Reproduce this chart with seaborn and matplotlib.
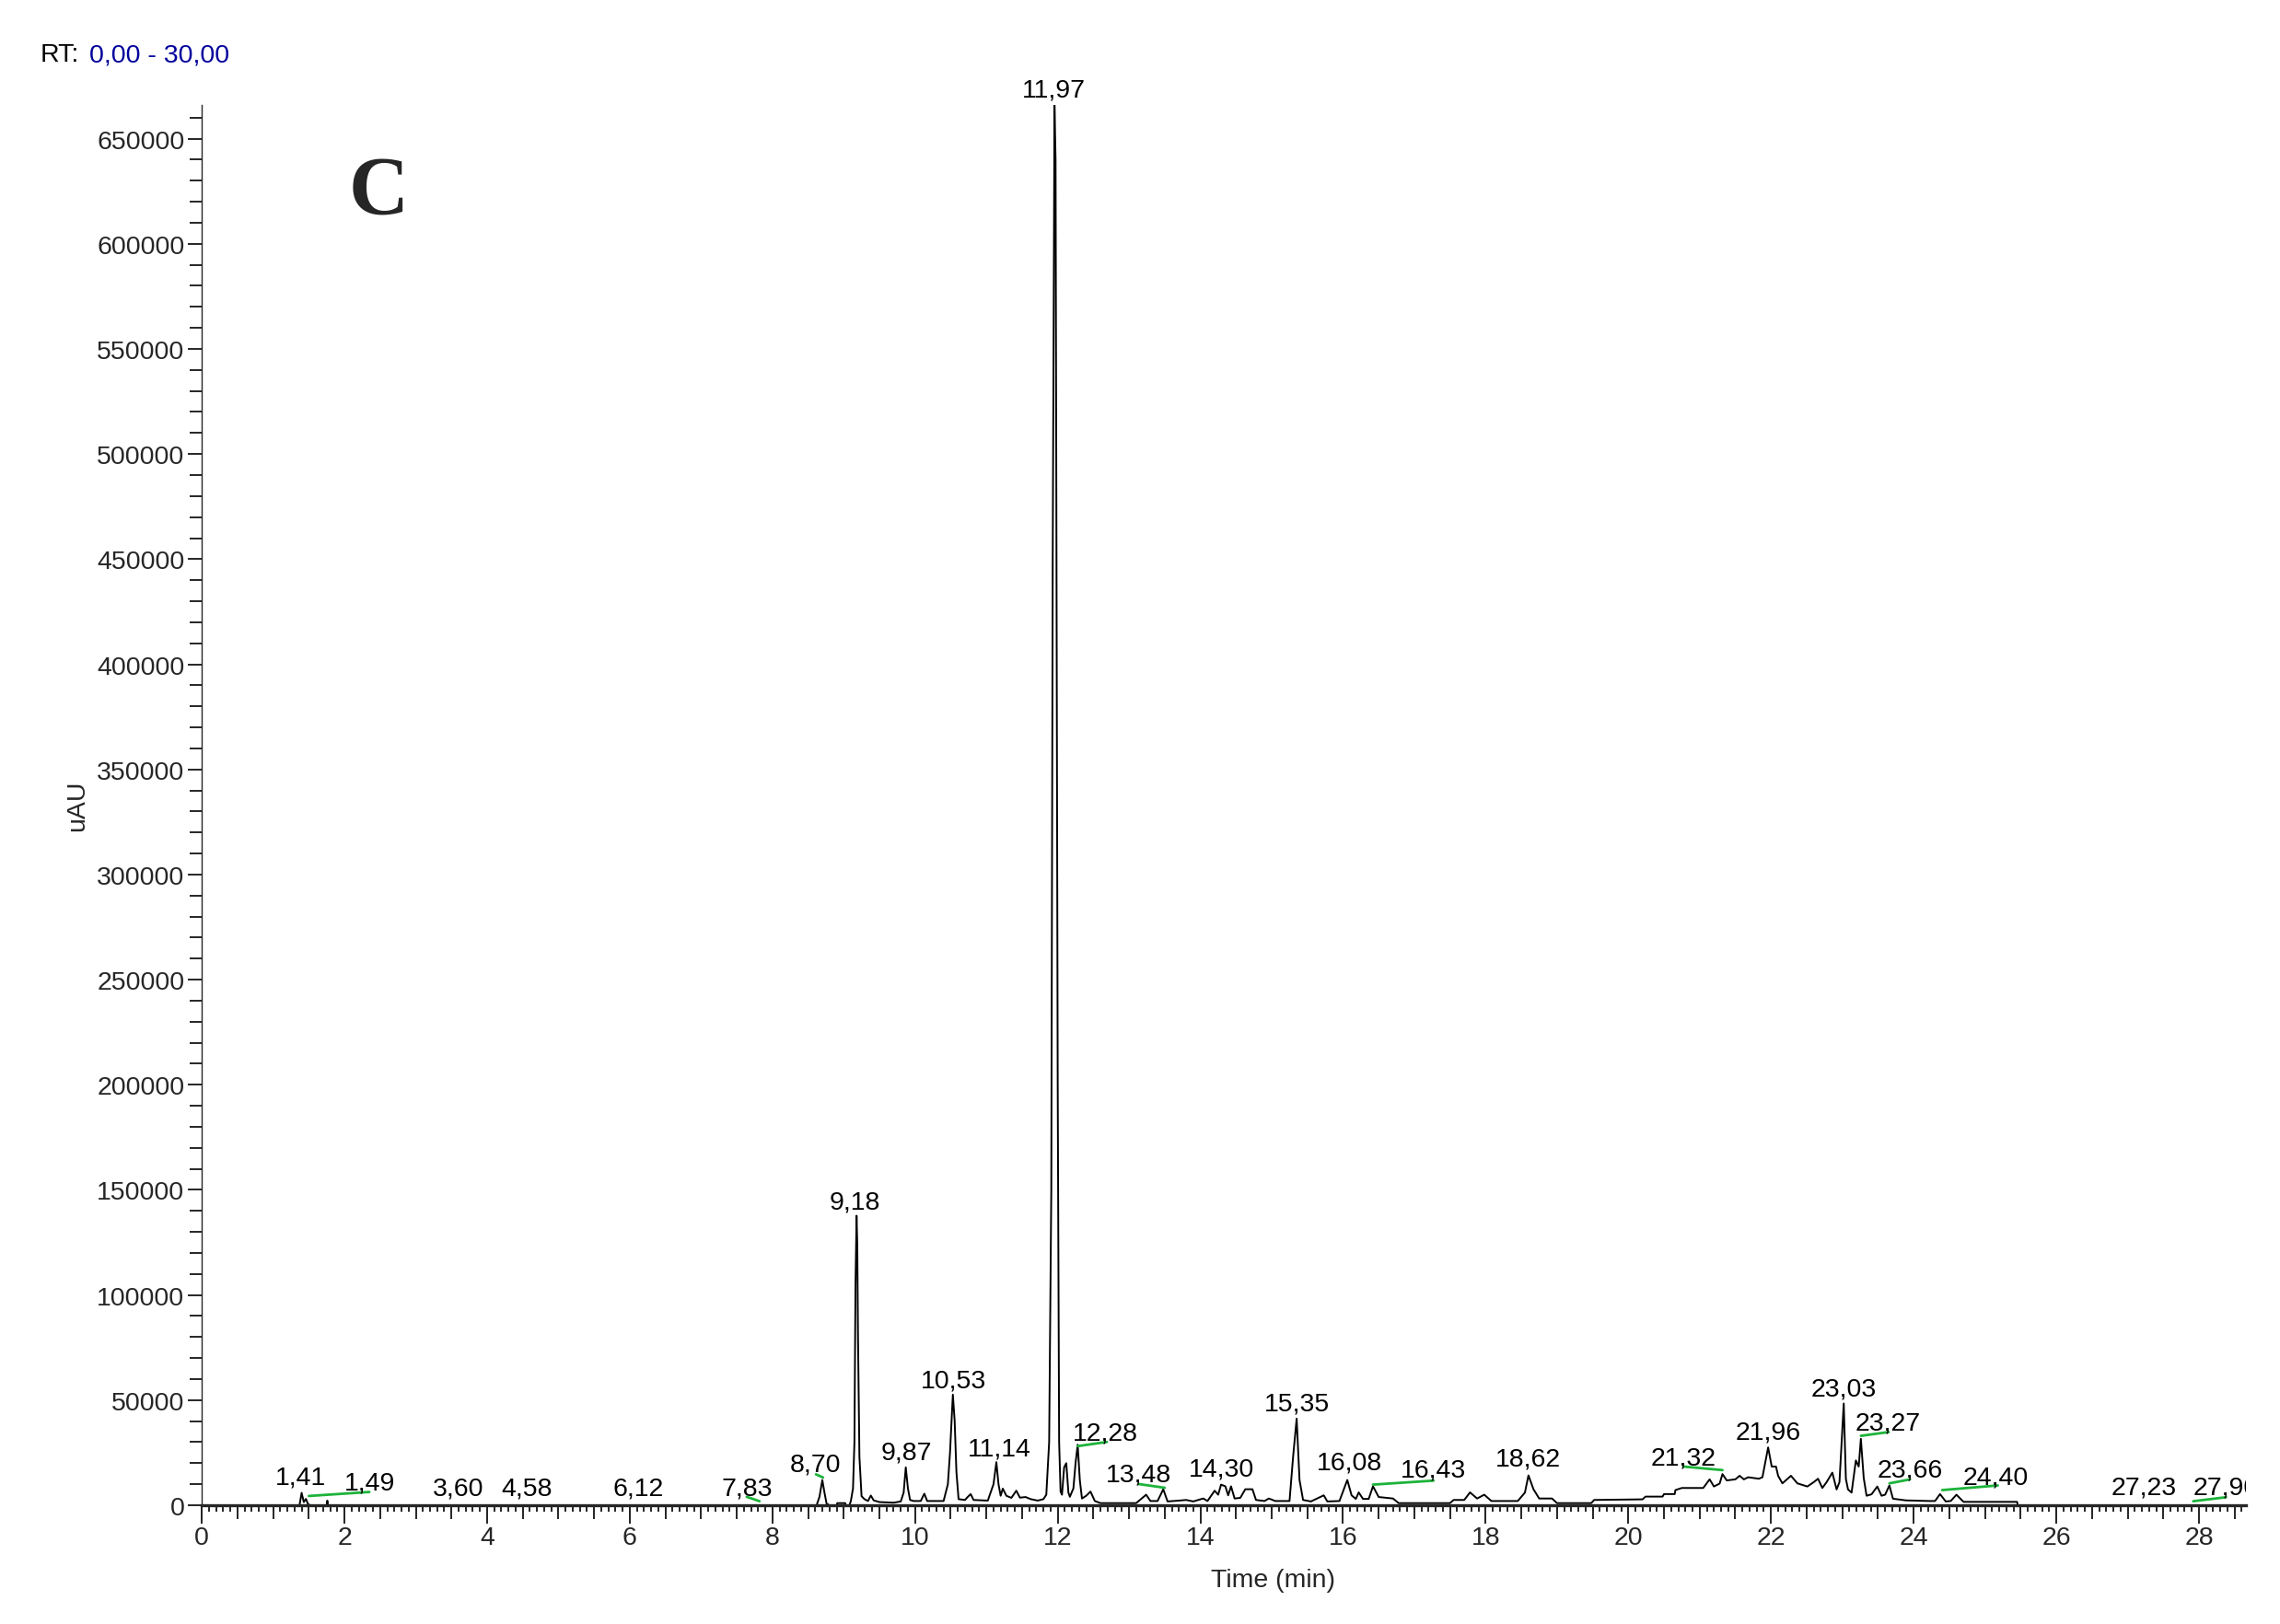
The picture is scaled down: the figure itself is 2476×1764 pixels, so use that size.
import matplotlib
matplotlib.use("Agg")
import matplotlib.pyplot as plt
import seaborn as sns
import numpy as np
from matplotlib.ticker import MultipleLocator, FuncFormatter

# chromatogram trace (retention time in min, signal in uAU)
rt_min = [
    0.00, 1.37, 1.40, 1.43, 1.46, 1.49, 1.52, 1.75, 1.76, 1.77,
    8.62, 8.66, 8.70, 8.73, 8.76, 8.80, 8.90, 8.91, 9.02, 9.03, 9.08,
    9.10, 9.13, 9.15, 9.165, 9.18, 9.19, 9.20, 9.22, 9.25, 9.29, 9.34, 9.38, 9.42,
    9.50, 9.70, 9.80, 9.84, 9.87, 9.90, 9.93, 9.98, 10.08, 10.13, 10.17, 10.40,
    10.46, 10.49, 10.53, 10.555, 10.58, 10.61, 10.70, 10.74, 10.78, 10.82, 11.02,
    11.10, 11.14, 11.17, 11.20, 11.23, 11.28, 11.35, 11.42, 11.47, 11.55, 11.62,
    11.72, 11.80,
    11.84, 11.88, 11.91, 11.93, 11.955, 11.97, 11.985, 12.00, 12.02, 12.04, 12.06,
    12.09, 12.12, 12.15, 12.17, 12.22, 12.25, 12.28, 12.31, 12.34, 12.40, 12.46,
    12.52, 12.60,
    13.10, 13.24, 13.30, 13.40, 13.48, 13.54, 13.70, 13.80, 13.90, 14.04, 14.10,
    14.20, 14.25, 14.29, 14.35, 14.39, 14.43, 14.48, 14.56, 14.63, 14.73, 14.78,
    14.90, 14.96, 15.05, 15.25, 15.30, 15.35, 15.39, 15.44, 15.55, 15.73, 15.78,
    15.95, 16.06, 16.12, 16.18, 16.22, 16.28, 16.36, 16.42, 16.50, 16.70, 16.78,
    17.50, 17.55, 17.70, 17.78, 17.88, 17.98, 18.08, 18.45, 18.55, 18.60, 18.67,
    18.75, 18.93, 19.00, 19.48, 19.52, 20.20,
    20.24, 20.48, 20.50, 20.65, 20.66, 20.75, 21.05, 21.14, 21.20, 21.28, 21.32,
    21.38, 21.50, 21.56, 21.62, 21.68, 21.83, 21.88, 21.96, 22.01, 22.07, 22.10,
    22.16, 22.28, 22.37, 22.51, 22.60, 22.66, 22.72, 22.78, 22.86, 22.92, 22.96,
    23.02, 23.05, 23.08, 23.13, 23.19, 23.23, 23.26, 23.30, 23.34, 23.41, 23.49,
    23.55, 23.60, 23.66, 23.71, 23.89, 24.22, 24.30, 24.37, 24.45, 24.52, 24.60,
    24.70, 25.45, 25.46, 28.70,
]
signal_uau = [
    0, 0, 5900, 1500, 3000, 500, 0, 0, 2200, 0,
    0, 4000, 12000, 6000, 700, 0, 0, 1000, 1000, 0, 0,
    2000, 8000, 30000, 105000, 137700, 124000, 80700, 23000, 4300, 2900, 2000, 4600, 2300,
    1500, 1200, 1800, 6000, 18000, 8000, 2500, 2000, 2000, 5500, 2000, 2000,
    10000, 25000, 52600, 40300, 15800, 2900, 2500, 4000, 5300, 2500, 2200,
    10000, 20500, 10000, 4500, 7900, 4500, 3500, 6900, 3600, 3900, 2900,
    2200, 2900,
    5000, 30000, 150000, 450000, 666000, 640000, 430000, 200000, 30000, 6500, 5000,
    18000, 20000, 6000, 4000, 8000, 20000, 28800, 12000, 3200, 4500, 6500,
    2000, 1000,
    1000, 5000, 2000, 2000, 7600, 1800, 2200, 2500, 1800, 3200, 2000,
    6900, 5000, 9800, 9000, 4700, 9000, 3200, 3500, 7600, 7600, 2500,
    2000, 3200, 2000, 2000, 23000, 41200, 12000, 2500, 1800, 4700, 1800,
    2000, 12000, 4700, 3000, 6100, 3000, 3000, 9000, 3900, 3200, 1000,
    1000, 2500, 2500, 6100, 3200, 5000, 2000, 2000, 6000, 14200, 7600,
    3200, 3200, 1000, 1000, 2500, 2800,
    4100, 4100, 5300, 5300, 7200, 8200, 8200, 12300, 8900, 10300, 14800,
    11800, 12300, 14000, 12300, 13300, 12600, 13300, 27500, 18400, 18400, 14000,
    10400, 14000, 10400, 8900, 11000, 12600, 8200, 11000, 15500, 7500, 11000,
    48400, 12600, 7500, 6000, 21300, 18400, 31600, 13000, 4500, 5200, 8900,
    4500, 5000, 9400, 3100, 2300, 2000, 2000, 5300, 1800, 2000, 5000,
    1600, 1600, 0, 0,
]

# peak labels: text, centre time, baseline height
peak_text = ["1,41", "1,49", "3,60", "4,58", "6,12", "7,83", "8,70", "9,18", "9,87",
             "10,53", "11,14", "11,97", "12,28", "13,48", "14,30", "15,35", "16,08",
             "16,43", "18,62", "21,32", "21,96", "23,03", "23,27", "23,66", "24,40",
             "27,23", "27,90"]
peak_label_x = [1.39, 2.35, 3.59, 4.56, 6.12, 7.65, 8.60, 9.16, 9.88,
                10.54, 11.18, 11.94, 12.67, 13.13, 14.30, 15.36, 16.09,
                17.27, 18.60, 20.77, 21.96, 23.02, 23.64, 23.95, 25.15,
                27.23, 28.38]
peak_label_y = [10300, 7800, 4900, 4900, 4900, 4900, 16600, 141200, 22000,
                56100, 24000, 670300, 31300, 11700, 14200, 45300, 17100,
                13700, 19000, 19600, 31900, 52300, 36300, 14000, 10400,
                5300, 5300]

# green baseline markers from peak apex to label anchor
green_x0 = [1.50, 7.64, 8.61, 12.28, 13.13, 16.42, 20.77, 23.26, 23.66, 24.40, 27.92]
green_y0 = [4400, 4000, 14700, 28100, 10100, 9800, 18400, 33000, 10400, 7200, 1900]
green_x1 = [2.35, 7.82, 8.71, 12.69, 13.50, 17.27, 21.32, 23.65, 23.95, 25.18, 28.38]
green_y1 = [6300, 1900, 13200, 30100, 8300, 11700, 16700, 34800, 12300, 9400, 3800]

x_range = (0, 28.66)
y_range = (0, 666000)

sns.set_style("ticks")
plt.rcParams["font.family"] = ["Liberation Sans", "DejaVu Sans"]
fs = 20.5

fig = plt.figure(figsize=(24.76, 17.65), dpi=100)
ax = fig.add_axes([0.0885, 0.0731, 0.8966, 0.8617])

sns.lineplot(x=rt_min, y=signal_uau, ax=ax, color="black", linewidth=1.4,
             estimator=None, sort=False)

for x0, y0, x1, y1 in zip(green_x0, green_y0, green_x1, green_y1):
    ax.plot([x0, x1], [y0, y1], color="#1DB33A", linewidth=2.0)

for txt, lx, ly in zip(peak_text, peak_label_x, peak_label_y):
    ax.text(lx, ly, txt, ha="center", va="baseline", fontsize=fs,
            color="black", clip_on=(ly < y_range[1]))

ax.set_xlim(*x_range)
ax.set_ylim(*y_range)

sns.despine(ax=ax, top=True, right=True)
ax.spines["bottom"].set_linewidth(2.4)
ax.spines["left"].set_linewidth(1.0)

# y ticks
ax.yaxis.set_major_locator(MultipleLocator(50000))
ax.yaxis.set_minor_locator(MultipleLocator(10000))
ax.yaxis.set_major_formatter(FuncFormatter(lambda v, p: f"{int(v)}"))
ax.tick_params(axis="y", which="major", length=11, width=1.4, pad=2.5, labelsize=fs)
ax.tick_params(axis="y", which="minor", length=9.5, width=1.4)

# x ticks: labelled every 2, medium every 0.5, small every 0.1
ax.xaxis.set_major_locator(MultipleLocator(2))
ax.xaxis.set_minor_locator(MultipleLocator(0.1))
ax.tick_params(axis="x", which="major", length=14.5, width=1.4, pad=1.5, labelsize=fs)
ax.tick_params(axis="x", which="minor", length=5, width=1.4)
secax = ax.secondary_xaxis("bottom")
secax.xaxis.set_major_locator(MultipleLocator(0.5))
secax.minorticks_off()
secax.tick_params(axis="x", length=11, width=1.4, labelbottom=False)
secax.spines["bottom"].set_visible(False)

ax.set_xlabel("Time (min)", fontsize=fs)
ax.xaxis.set_label_coords(0.524, -0.0533)
ax.xaxis.label.set_verticalalignment("center")
ax.set_ylabel("uAU", fontsize=fs)
ax.yaxis.set_label_coords(-0.0608, 0.5)
ax.yaxis.label.set_verticalalignment("center")

fig.text(0.0178, 0.966, "RT:", fontsize=fs, color="black", ha="left", va="center")
fig.text(0.0392, 0.966, "0,00 - 30,00", fontsize=fs, color="#00009C", ha="left", va="center")
fig.text(0.166, 0.8805, "C", fontsize=65, fontweight="bold",
         family=["Liberation Serif", "DejaVu Serif"], ha="center", va="center")

fig.savefig("out.png", dpi=100)
